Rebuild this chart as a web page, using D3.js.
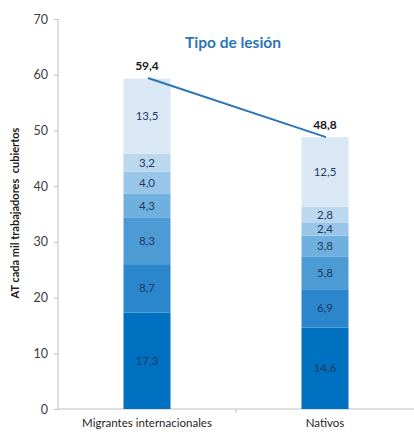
<!DOCTYPE html>
<html><head><meta charset="utf-8">
<script src="https://cdn.jsdelivr.net/npm/d3@7"></script>
<style>body{margin:0;background:#fff}svg{display:block}</style>
</head><body>
<svg id="c" width="414" height="432"></svg>
<script>
const categories = ["Migrantes internacionales", "Nativos"];
const segMigrantes = [17.3, 8.7, 8.3, 4.3, 4.0, 3.2, 13.5];
const segNativos = [14.6, 6.9, 5.8, 3.8, 2.4, 2.8, 12.5];
const totals = [59.4, 48.8];
const totalLabels = ["59,4", "48,8"];
const yTicks = [0, 10, 20, 30, 40, 50, 60, 70];
const segColors = ["#0070c0", "#2b86cc", "#4c9bd5", "#6fb0df", "#99c6e8", "#bcd8ef", "#dae8f5"];
const title = "Tipo de lesión";
const yTitle = "AT cada mil trabajadores  cubiertos";

const font = "Lato, 'Open Sans', sans-serif";
const svg = d3.select("#c");
const y = d3.scaleLinear().domain([0, 70]).range([409, 19]);
const x = d3.scaleBand().domain(categories).range([58, 414]);
const bw = 47;
const series = [segMigrantes, segNativos];

// axes
const gy = svg.append("g").attr("transform", "translate(58,0)")
  .call(d3.axisLeft(y).tickValues(yTicks).tickSize(4).tickPadding(6));
gy.select(".domain").attr("stroke", "#bfbfbf").attr("d", "M0," + y(70) + "V" + y(0));
gy.selectAll(".tick line").attr("stroke", "#bfbfbf");
gy.selectAll("text").attr("font-family", font).attr("font-size", 12.5).attr("fill", "#404040");

const gx = svg.append("g").attr("transform", "translate(0," + y(0) + ")")
  .call(d3.axisBottom(x).tickSize(0).tickPadding(10));
gx.select(".domain").attr("stroke", "#bfbfbf").attr("d", "M58,0H414");
gx.selectAll("text").attr("font-family", font).attr("font-size", 11.5).attr("fill", "#262626");
// separator tick between categories
gx.append("line").attr("x1", x(categories[1])).attr("x2", x(categories[1]))
  .attr("y1", 0).attr("y2", 4).attr("stroke", "#bfbfbf");

// bars
series.forEach((vals, i) => {
  const cx = x(categories[i]) + x.bandwidth() / 2;
  let acc = 0;
  const g = svg.append("g");
  vals.forEach((v, j) => {
    const y0 = acc, y1 = acc + v;
    acc = y1;
    g.append("rect").attr("x", cx - bw / 2).attr("width", bw)
      .attr("y", y(y1)).attr("height", y(y0) - y(y1)).attr("fill", segColors[j]);
    g.append("text").attr("x", cx).attr("y", y((y0 + y1) / 2)).attr("dy", "0.35em")
      .attr("text-anchor", "middle").attr("font-family", font).attr("font-size", 11.5)
      .attr("fill", "#1f3a60").text(String(v.toFixed(1)).replace(".", ","));
  });
});

// line connecting totals
const pts = totals.map((t, i) => [x(categories[i]) + x.bandwidth() / 2 + 1, y(t)]);
svg.append("path").attr("d", d3.line()(pts)).attr("stroke", "#2e75b6").attr("stroke-width", 2).attr("fill", "none");

// total labels
totals.forEach((t, i) => {
  svg.append("text").attr("x", x(categories[i]) + x.bandwidth() / 2).attr("y", y(t) - 8)
    .attr("text-anchor", "middle").attr("font-family", font).attr("font-size", 12)
    .attr("font-weight", "bold").attr("fill", "#1a1a1a").text(totalLabels[i]);
});

// title
svg.append("text").attr("x", 233).attr("y", 48).attr("text-anchor", "middle")
  .attr("font-family", font).attr("font-size", 15.5).attr("font-weight", "bold")
  .attr("fill", "#2e75b6").text(title);

// y title
svg.append("text").attr("transform", "translate(19,213) rotate(-90)")
  .attr("text-anchor", "middle").attr("font-family", font).attr("font-size", 11)
  .attr("font-weight", "bold").attr("fill", "#1a1a1a").style("white-space", "pre").text(yTitle);
</script>
</body></html>
